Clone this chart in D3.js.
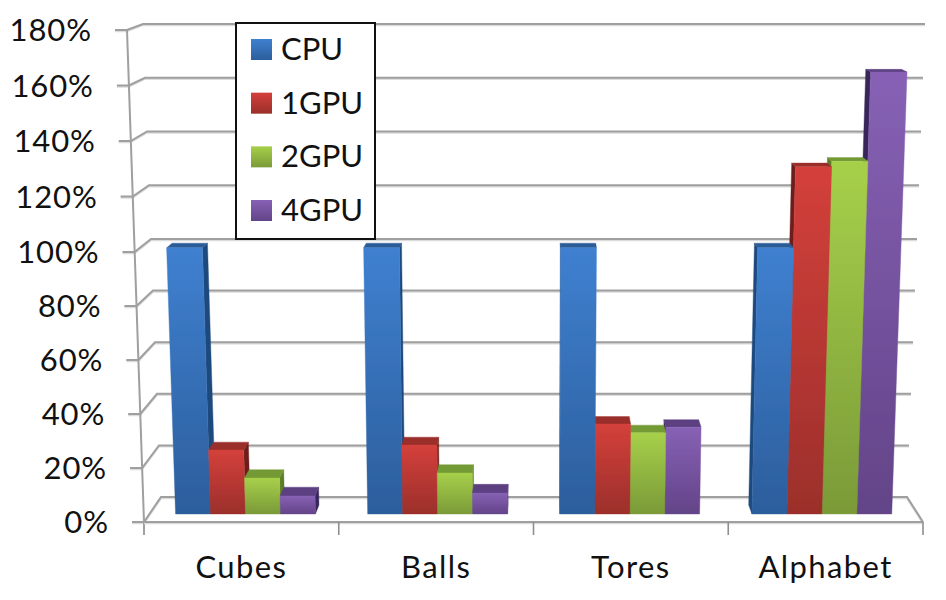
<!DOCTYPE html>
<html><head><meta charset="utf-8">
<script src="https://cdn.jsdelivr.net/npm/d3@7/dist/d3.min.js"></script>
<style>html,body{margin:0;padding:0;background:#fff}svg{display:block}text{font-family:Lato,"Open Sans",sans-serif;fill:#111}</style>
</head><body><svg id="c" width="946" height="600"></svg>
<script>
const categories = ["Cubes","Balls","Tores","Alphabet"];
const seriesNames = ["CPU","1GPU","2GPU","4GPU"];
const cpu  = [100,100,100,100];
const gpu1 = [24,25.9,33.8,129.5];
const gpu2 = [13.5,15.4,30.5,131.5];
const gpu4 = [6.8,7.9,32.6,164];
const seriesValues = [cpu,gpu1,gpu2,gpu4];
const yTicks = [0,20,40,60,80,100,120,140,160,180];
const palette = [
 {hi:"#3f80d0",lo:"#2c5e9c",top:"#2b5b97",side:"#1f4a7e"},
 {hi:"#d4403b",lo:"#9b2f2b",top:"#9a2e2a",side:"#6e1f1c"},
 {hi:"#a7d04a",lo:"#7a9a38",top:"#739a34",side:"#5c7c2a"},
 {hi:"#8761b5",lo:"#634488",top:"#5b3f82",side:"#38275a"}];

const svg = d3.select("#c");
const defs = svg.append("defs");
const blur = defs.append("filter").attr("id","soft").attr("x","-5%").attr("y","-5%").attr("width","110%").attr("height","110%");
blur.append("feGaussianBlur").attr("stdDeviation",0.6);
palette.forEach((p,i)=>{
  const g = defs.append("linearGradient").attr("id","g"+i).attr("x1",0).attr("x2",0).attr("y1",0).attr("y2",1);
  g.append("stop").attr("offset",0).attr("stop-color",p.hi);
  g.append("stop").attr("offset",1).attr("stop-color",p.lo);
});

// perspective box: value → wall positions at the back (depth 0) and front (depth 1)
const yBack   = d3.scaleLinear().domain([0,100,180]).range([497,239,24]);
const yFront  = d3.scaleLinear().domain([0,100,180]).range([522,252,30]);
const xBackL  = d3.scaleLinear().domain([0,180]).range([161,143]);
const xFrontL = d3.scaleLinear().domain([0,180]).range([144,127]);
const xBackR  = d3.scaleLinear().domain([0,180]).range([907,925]);
const xFrontR = d3.scaleLinear().domain([0,180]).range([923,941]);
function project(u,v,d){
  const L = xBackL(v)+(xFrontL(v)-xBackL(v))*d;
  const R = xBackR(v)+(xFrontR(v)-xBackR(v))*d;
  return [L+(R-L)*u, yBack(v)+(yFront(v)-yBack(v))*d];
}
const catBand = d3.scaleBand().domain(categories).range([0,1]).paddingInner(0.272).paddingOuter(0.136);
const serBand = d3.scaleBand().domain(d3.range(seriesNames.length)).range([0,catBand.bandwidth()]);
const floorX = d3.scaleLinear().domain([0,categories.length]).range([144,923]);
const DF=0.68, DB=0.32, VANISH=0.515;
const line = d3.line();

// grid
const gridG = svg.append("g").attr("filter","url(#soft)");
const stroke = (sel,w,c)=>sel.attr("fill","none").attr("stroke",c).attr("stroke-width",w);
yTicks.forEach(v=>{
  const pts=[[xFrontL(v)-12,yFront(v)],[xFrontL(v),yFront(v)],[xBackL(v),yBack(v)],[xBackR(v),yBack(v)]];
  if(v===0) pts.push([xFrontR(0),yFront(0)]);
  gridG.append("path").attr("d",line(pts.map(p=>[p[0],p[1]+1]))).call(stroke,2.4,"#dcdcdc");
  gridG.append("path").attr("d",line(pts)).call(stroke,2,"#9f9f9f");
});
gridG.append("path").attr("d",line([[xFrontL(180),yFront(180)],[xFrontL(0),yFront(0)],[xFrontL(0),yFront(0)+13]])).call(stroke,2,"#9f9f9f");
gridG.append("path").attr("d",line([[xFrontL(0),yFront(0)+1],[xFrontR(0),yFront(0)+1]])).call(stroke,2.4,"#dcdcdc");
gridG.append("path").attr("d",line([[xFrontL(0),yFront(0)],[xFrontR(0),yFront(0)]])).call(stroke,2,"#9f9f9f");
d3.range(1,categories.length+1).forEach(i=>{
  gridG.append("path").attr("d",line([[floorX(i),yFront(0)],[floorX(i),yFront(0)+13]])).call(stroke,1.6,"#8f8f8f");
});

// bars: outermost first so that those nearer the centre overlap them
const barsG = svg.append("g").attr("filter","url(#soft)");
categories.forEach((cat,ci)=>{
  const u0 = catBand(cat);
  let order = d3.range(seriesNames.length);
  if(u0+catBand.bandwidth()/2>VANISH) order = order.reverse();
  order.forEach(si=>{
    const v = seriesValues[si][ci], p = palette[si];
    const a = u0+serBand(si), b = a+serBand.bandwidth();
    const quad=(pts,fill)=>barsG.append("path").attr("d",line(pts)+"Z").attr("fill",fill).attr("stroke",fill).attr("stroke-width",0.4);
    if(a>VANISH) quad([project(a,0,DF),project(a,v,DF),project(a,v,DB),project(a,0,DB)],p.side);
    if(b<VANISH) quad([project(b,0,DF),project(b,v,DF),project(b,v,DB),project(b,0,DB)],p.side);
    quad([project(a,v,DF),project(b,v,DF),project(b,v,DB),project(a,v,DB)],p.top);
    quad([project(a,0,DF),project(b,0,DF),project(b,v,DF),project(a,v,DF)],`url(#g${si})`);
  });
});

// value labels
svg.append("g").selectAll("text").data(yTicks).join("text")
  .attr("x",v=>xFrontL(v)-35).attr("y",v=>yFront(v)+11)
  .attr("text-anchor","end").attr("font-size",31).attr("letter-spacing",0.9).text(v=>v+"%");

// category labels
svg.append("g").selectAll("text").data(categories).join("text")
  .attr("x",(c,i)=>floorX(i+0.5)).attr("y",578)
  .attr("text-anchor","middle").attr("font-size",31).attr("letter-spacing",1.4).text(c=>c);

// legend
const legend = svg.append("g");
legend.append("rect").attr("x",236).attr("y",23).attr("width",139).attr("height",216)
  .attr("fill","#fff").attr("stroke","#111").attr("stroke-width",2);
const legendY = d3.scalePoint().domain(seriesNames).range([60,221]);
seriesNames.forEach((n,i)=>{
  legend.append("rect").attr("x",251).attr("y",legendY(n)-21).attr("width",21).attr("height",21).attr("fill",`url(#g${i})`);
  legend.append("text").attr("x",281).attr("y",legendY(n)).attr("font-size",31).text(n);
});
</script></body></html>
